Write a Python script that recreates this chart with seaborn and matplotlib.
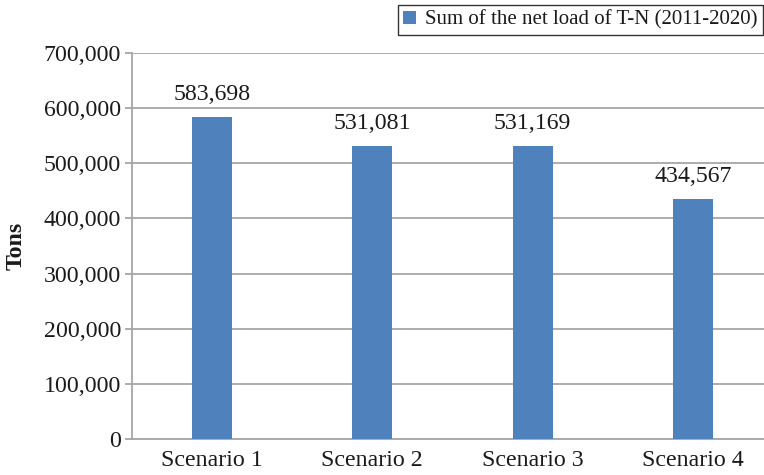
import matplotlib
matplotlib.use("Agg")
import matplotlib.pyplot as plt
import seaborn as sns
import pandas as pd
from matplotlib.patches import Patch
from matplotlib.ticker import FuncFormatter

scenarios = ["Scenario 1", "Scenario 2", "Scenario 3", "Scenario 4"]
net_load = [583698, 531081, 531169, 434567]
series_name = "Sum of the net load of T-N (2011-2020)"
y_ticks = [0, 100000, 200000, 300000, 400000, 500000, 600000, 700000]

df = pd.DataFrame({"scenario": scenarios, "load": net_load})

sns.set_theme(style="white")
plt.rcParams["font.family"] = ["Liberation Serif", "DejaVu Serif"]

bar_color = "#4F81BD"
grid_color = "#A6A6A6"
text_color = "#1A1A1A"
fs = 17.2

fig = plt.figure(figsize=(7.64, 4.75), dpi=100)
ax = fig.add_axes([132 / 764, 35.7 / 475, 632 / 764, 386.6 / 475])

sns.barplot(data=df, x="scenario", y="load", color=bar_color, width=0.25,
            saturation=1, linewidth=0, ax=ax, zorder=3)

ax.set_ylim(0, 700000)
ax.set_xlim(-0.5, 3.444)
ax.set_yticks(y_ticks)
ax.yaxis.set_major_formatter(FuncFormatter(lambda v, p: f"{int(v):,}"))
ax.grid(axis="y", color=grid_color, linewidth=1.3, zorder=0)
ax.grid(axis="x", visible=False)

for side in ["top", "right"]:
    ax.spines[side].set_visible(False)
ax.spines["left"].set_color(grid_color)
ax.spines["left"].set_linewidth(1.3)
ax.spines["bottom"].set_color(grid_color)
ax.spines["bottom"].set_linewidth(1.3)

ax.tick_params(axis="y", which="major", direction="out", length=5, width=1.3,
               color=grid_color, labelsize=fs, labelcolor=text_color, pad=3, left=True)
ax.tick_params(axis="x", which="major", length=0, labelsize=fs,
               labelcolor=text_color, pad=8)

ax.set_xlabel("")
ax.set_ylabel("Tons", fontsize=fs, fontweight="bold", color=text_color, labelpad=12)

for i, v in enumerate(net_load):
    ax.annotate(f"{v:,}", (i, v), xytext=(0, 8.5), textcoords="offset points",
                ha="center", va="bottom", fontsize=fs, color=text_color)

handle = Patch(facecolor=bar_color, edgecolor="none")
leg = fig.legend([handle], [series_name], loc="upper right",
                 bbox_to_anchor=(763 / 764, 1 - 5 / 475), frameon=True,
                 fancybox=False, fontsize=15.0, handlelength=0.6, handleheight=0.6,
                 handletextpad=0.45, borderpad=0.25, borderaxespad=0,
                 labelcolor=text_color)
leg.get_frame().set_edgecolor("#000000")
leg.get_frame().set_linewidth(1.0)

fig.savefig("out.png", dpi=100)
